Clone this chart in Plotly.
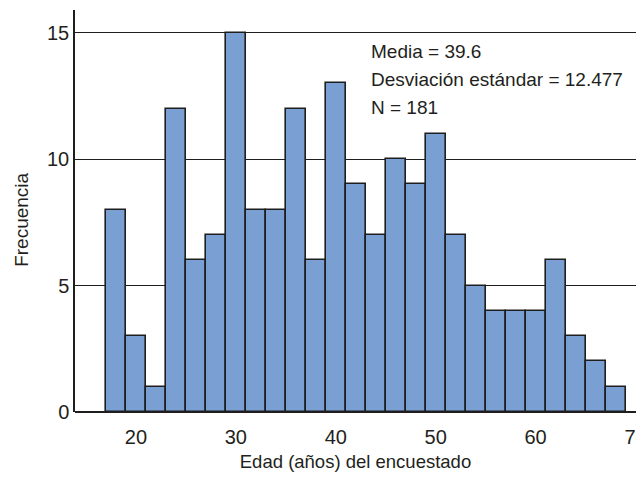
import plotly.graph_objects as go

# centros de las clases (edad, amplitud 2 años) y frecuencias
edad = [18, 20, 22, 24, 26, 28, 30, 32, 34, 36, 38, 40, 42,
        44, 46, 48, 50, 52, 54, 56, 58, 60, 62, 64, 66, 68]
frecuencia = [8, 3, 1, 12, 6, 7, 15, 8, 8, 12, 6, 13, 9,
              7, 10, 9, 11, 7, 5, 4, 4, 4, 6, 3, 2, 1]
resumen = ["Media = 39.6", "Desviación estándar = 12.477", "N = 181"]
ticks_x = [20, 30, 40, 50, 60, 70]
ticks_y = [0, 5, 10, 15]

FONT = "Liberation Sans, Arial, sans-serif"
TXT = "#231f20"

fig = go.Figure()
fig.add_trace(go.Bar(
    x=edad, y=frecuencia, width=2,
    marker=dict(color="#7a9fd2", line=dict(color="#1e1e1e", width=1.6)),
))

for i, s in enumerate(resumen):
    fig.add_annotation(x=43.3, y=14.25 - 1.1 * i, xref="x", yref="y", text=s,
                       showarrow=False, xanchor="left", yanchor="middle",
                       font=dict(family=FONT, size=19, color=TXT))

# título del eje y, un poco por debajo del centro como en el original
fig.add_annotation(x=-0.0945, y=0.478, xref="paper", yref="paper", text="Frecuencia",
                   textangle=-90, showarrow=False, xanchor="center", yanchor="middle",
                   font=dict(family=FONT, size=19, color=TXT))

# la página añade 8 px de margen al cuerpo: figura de 628x464
fig.update_layout(
    width=628, height=464,
    margin=dict(l=67, r=0, t=2, b=60),
    plot_bgcolor="white", paper_bgcolor="white",
    showlegend=False, bargap=0,
    font=dict(family=FONT, size=19, color=TXT),
)
fig.update_xaxes(
    range=[13.9, 70.05], tickvals=ticks_x, ticks="", showgrid=False,
    zeroline=False, showline=False, tickfont=dict(size=20), automargin=False,
    ticklabelstandoff=11, ticklabeloverflow="allow",
    title=dict(text="Edad (años) del encuestado", font=dict(size=18.5), standoff=17),
)
fig.update_yaxes(
    range=[0, 15.9], tickvals=ticks_y, ticks="", showgrid=True,
    gridcolor="#1e1e1e", gridwidth=1.2, zeroline=True, zerolinecolor="#1e1e1e",
    zerolinewidth=1.5, showline=True, linecolor="#1e1e1e", linewidth=1.5,
    tickfont=dict(size=20), ticklabelstandoff=0, automargin=False,
)

fig.write_html("out.html")
